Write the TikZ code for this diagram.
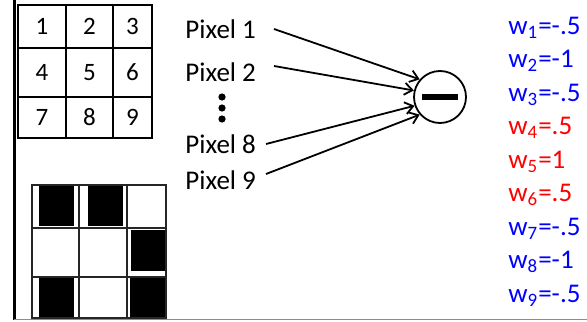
\documentclass[tikz,border=0pt]{standalone}
\usepackage{fontspec}
\setmainfont{Carlito}
\usetikzlibrary{arrows.meta}
\definecolor{wblue}{RGB}{0,0,255}
\definecolor{wred}{RGB}{255,0,0}
\begin{document}
\begin{tikzpicture}[x=0.5pt,y=-0.5pt,
  lbl/.style={font=\fontsize{13.5}{16}\selectfont, inner sep=0pt, anchor=base west},
  num/.style={font=\fontsize{12.5}{15}\selectfont, inner sep=0pt},
  wtb/.style={lbl, text=wblue},
  wtr/.style={lbl, text=wred},
  conn/.style={line width=0.9pt, -{Straight Barb[length=4pt,width=6pt,line width=0.9pt]}},
  gridA/.style={line width=1.4pt},
  gridB/.style={line width=0.9pt, draw=black!85},
  neuron/.style={circle, draw, line width=0.9pt, minimum size=26pt, inner sep=0pt}]
\useasboundingbox (0,0) rectangle (587,321);
% frame lines
\draw[line width=1.5pt] (14,0) -- (14,320);
\draw[line width=0.5pt, black!45] (14,319.5) -- (587,319.5);
% top numbered grid
\draw[gridA] (18,5) rectangle (152,138);
\draw[gridA] (66,5) -- (66,138) (113,5) -- (113,138);
\draw[gridA] (18,48) -- (152,48) (18,97) -- (152,97);
\node[num] (n1) at (42,26.5) {1};
\node[num] (n2) at (89.5,26.5) {2};
\node[num] (n3) at (132.5,26.5) {3};
\node[num] (n4) at (42,72.5) {4};
\node[num] (n5) at (89.5,72.5) {5};
\node[num] (n6) at (132.5,72.5) {6};
\node[num] (n7) at (42,117.5) {7};
\node[num] (n8) at (89.5,117.5) {8};
\node[num] (n9) at (132.5,117.5) {9};
% bottom pixel grid
\fill (39,185) rectangle (74,226);
\fill (88,185) rectangle (123,226);
\fill (131,230) rectangle (166,271);
\fill (39,277) rectangle (74,318);
\fill (130,277) rectangle (166,318);
\draw[gridB] (32,185) rectangle (166,318);
\draw[gridB] (79,185) -- (79,318) (127,185) -- (127,318);
\draw[gridB] (32,228) -- (166,228) (32,277) -- (166,277);
% pixel labels
\node[lbl] (p1) at (185,38) {Pixel 1};
\node[lbl] (p2) at (185,81) {Pixel 2};
\node[lbl] (p8) at (185,153) {Pixel 8};
\node[lbl] (p9) at (185,189) {Pixel 9};
\fill (222,97) circle (1.8pt);
\fill (222,108) circle (1.8pt);
\fill (222,119) circle (1.8pt);
% neuron
\node[neuron] (c) at (440,97) {};
\fill ([xshift=-9pt,yshift=-1.5pt]c.center) rectangle ([xshift=9pt,yshift=1.5pt]c.center);
% connectors
\coordinate (s1) at (274,29);
\coordinate (s2) at (274,66);
\coordinate (s8) at (266,144);
\coordinate (s9) at (266,174);
\draw[conn] (s1) -- (c.139);
\draw[conn] (s2) -- (c.166);
\draw[conn] (s8) -- (c.199);
\draw[conn] (s9) -- (c.221);
% weights
\node[wtb] (w1) at (508,34) {w\textsubscript{1}=-.5};
\node[wtb] (w2) at (508,67.5) {w\textsubscript{2}=-1};
\node[wtb] (w3) at (508,101) {w\textsubscript{3}=-.5};
\node[wtr] (w4) at (508,134.5) {w\textsubscript{4}=.5};
\node[wtr] (w5) at (508,168) {w\textsubscript{5}=1};
\node[wtr] (w6) at (508,201.5) {w\textsubscript{6}=.5};
\node[wtb] (w7) at (508,235) {w\textsubscript{7}=-.5};
\node[wtb] (w8) at (508,268.5) {w\textsubscript{8}=-1};
\node[wtb] (w9) at (508,302) {w\textsubscript{9}=-.5};
\end{tikzpicture}
\end{document}
